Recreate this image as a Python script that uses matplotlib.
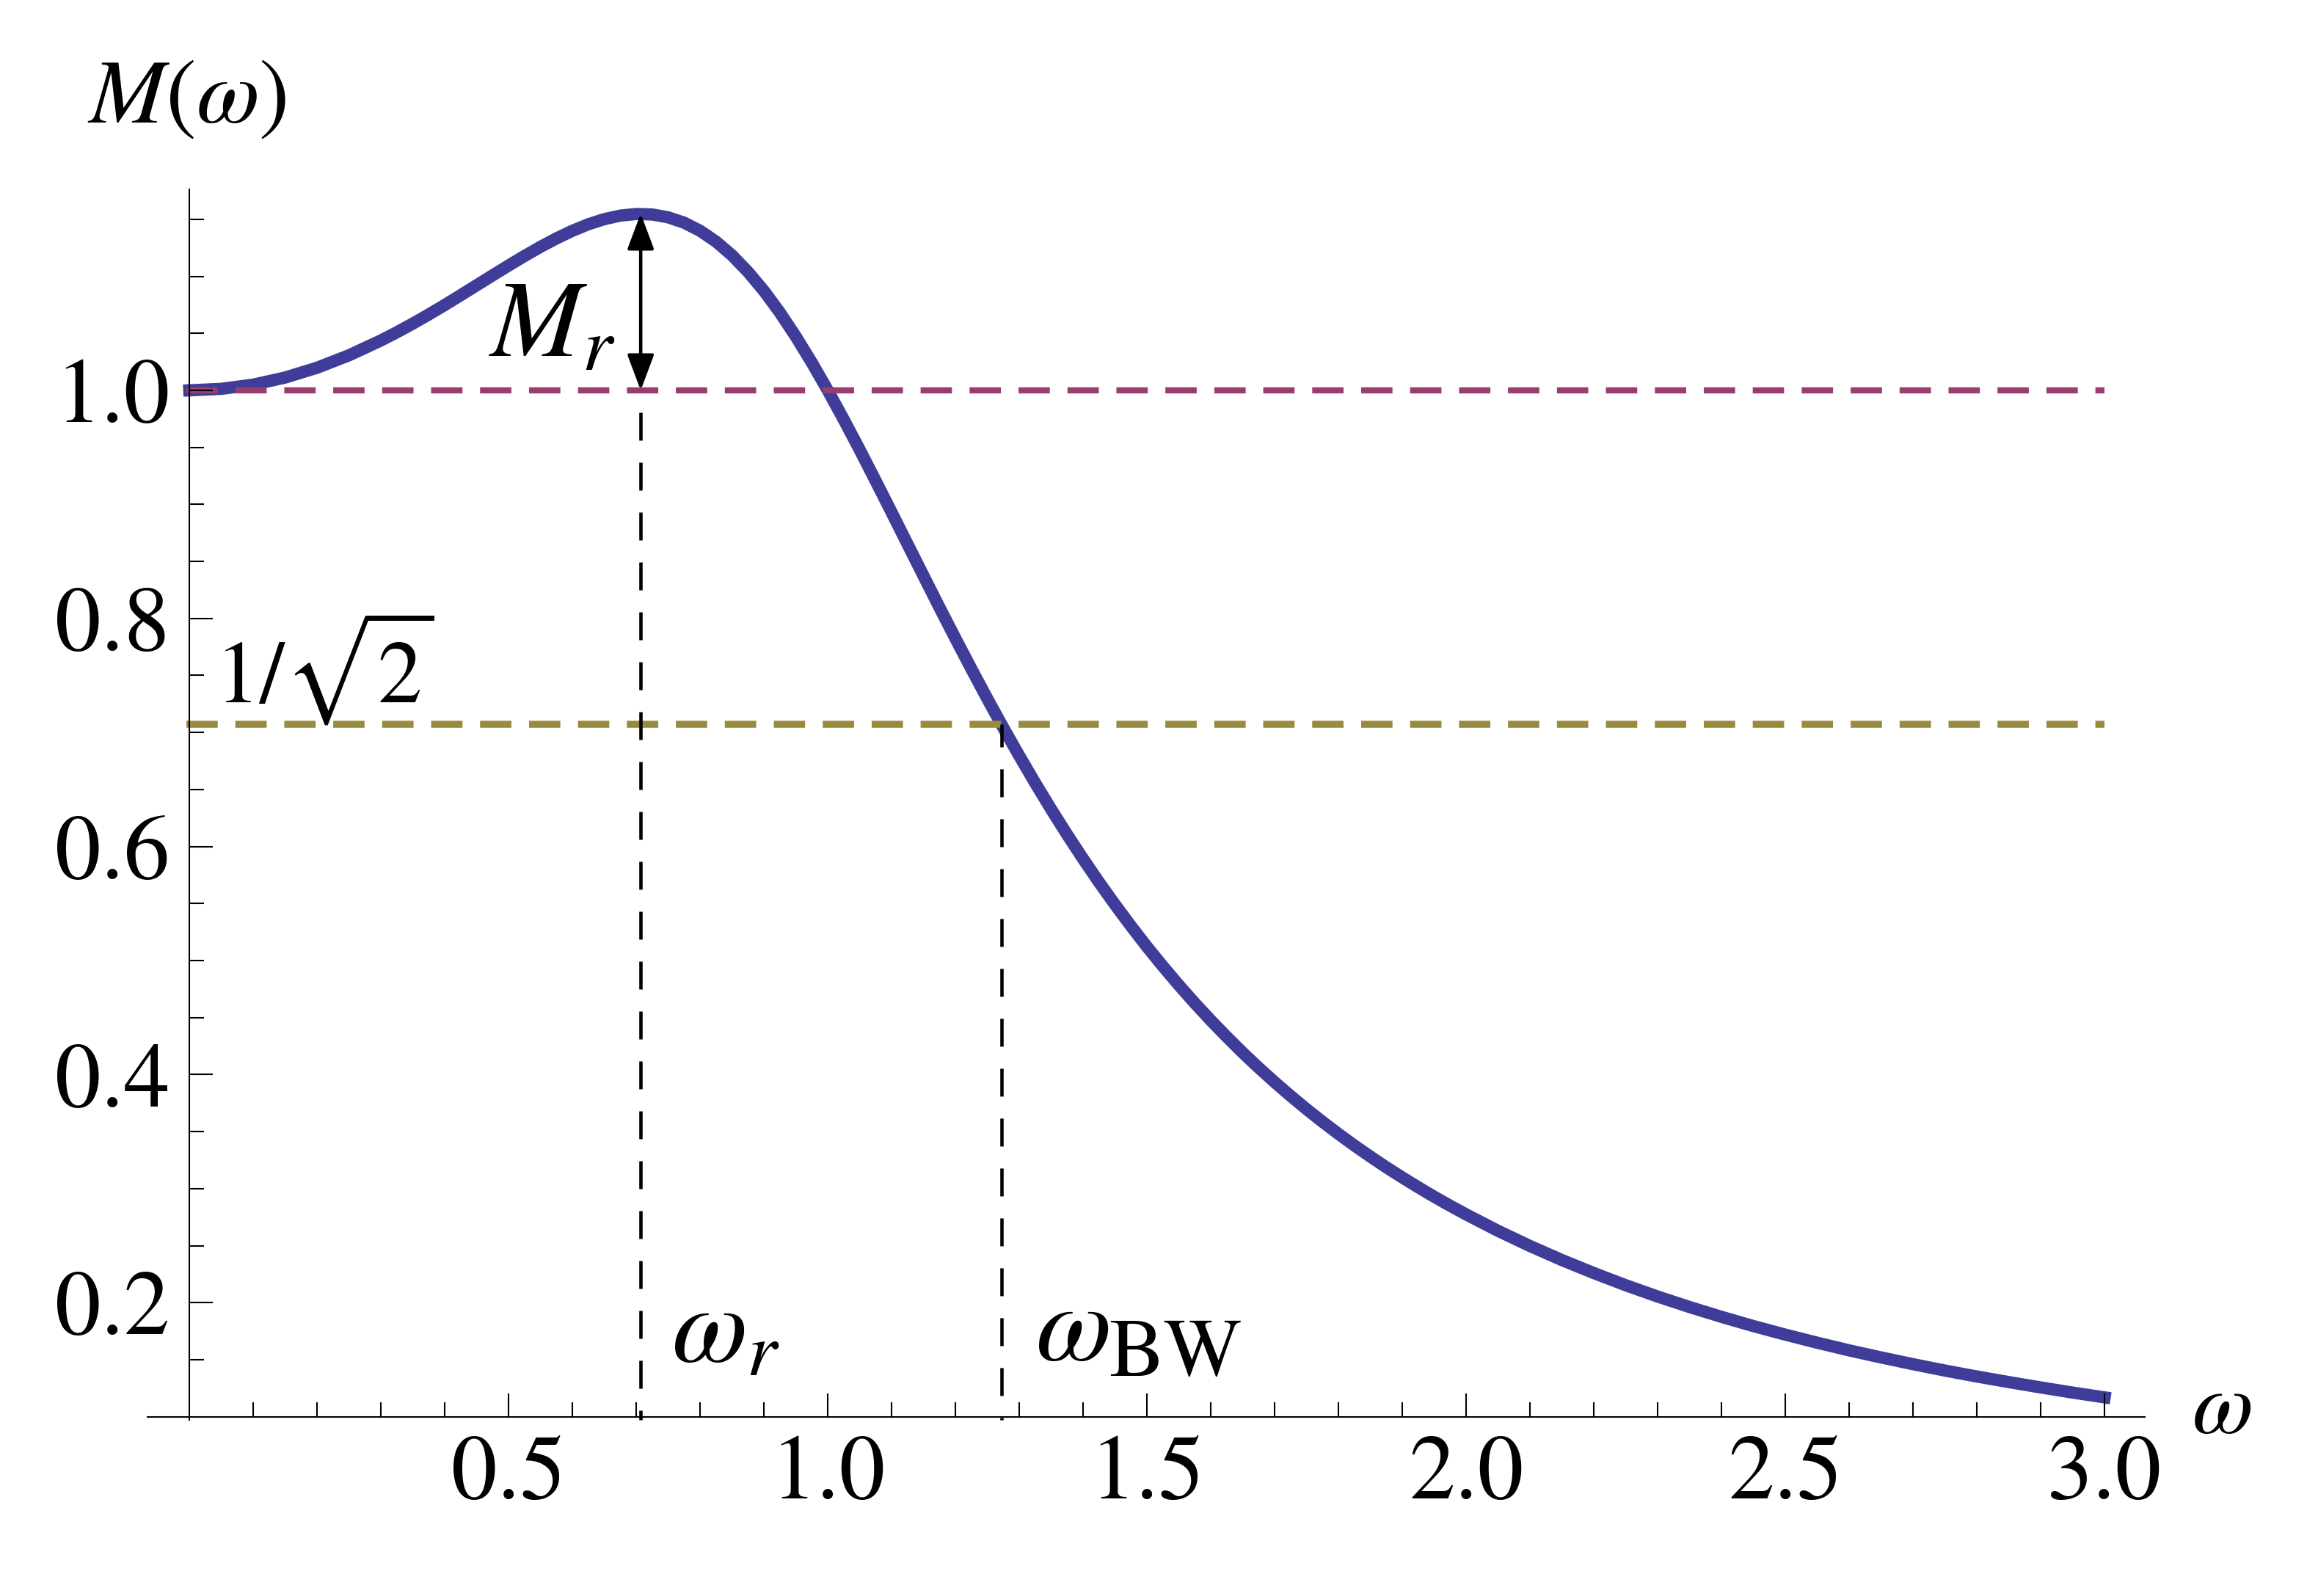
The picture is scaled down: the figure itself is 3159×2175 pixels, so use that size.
import matplotlib
matplotlib.use('Agg')
import matplotlib.pyplot as plt
from matplotlib.patches import FancyArrowPatch, ArrowStyle
from matplotlib.ticker import FixedLocator

# ---------------- data ----------------
omega = [0.00, 0.05, 0.10, 0.15, 0.20, 0.25, 0.30, 0.325, 0.35, 0.375,
         0.40, 0.425, 0.45, 0.475, 0.50, 0.525, 0.55, 0.575, 0.60, 0.625,
         0.65, 0.675, 0.70, 0.725, 0.75, 0.775, 0.80, 0.825, 0.85, 0.875,
         0.90, 0.925, 0.95, 0.975, 1.00, 1.025, 1.05, 1.075, 1.10, 1.125,
         1.15, 1.175, 1.20, 1.225, 1.25, 1.275, 1.30, 1.325, 1.35, 1.375,
         1.40, 1.425, 1.45, 1.475, 1.50, 1.525, 1.55, 1.575, 1.60, 1.625,
         1.65, 1.675, 1.70, 1.725, 1.75, 1.775, 1.80, 1.825, 1.85, 1.875,
         1.90, 1.925, 1.95, 1.975, 2.00, 2.05, 2.10, 2.15, 2.20, 2.25,
         2.30, 2.35, 2.40, 2.45, 2.50, 2.55, 2.60, 2.65, 2.70, 2.75,
         2.80, 2.85, 2.90, 2.95, 3.00]
magnitude = [1.0000, 1.0013, 1.0050, 1.0112, 1.0198, 1.0307, 1.0437, 1.0509, 1.0585, 1.0665,
             1.0748, 1.0834, 1.0921, 1.1008, 1.1094, 1.1178, 1.1258, 1.1332, 1.1399, 1.1456,
             1.1501, 1.1532, 1.1546, 1.1542, 1.1517, 1.1470, 1.1399, 1.1304, 1.1184, 1.1039,
             1.0872, 1.0682, 1.0471, 1.0243, 1.0000, 0.9744, 0.9479, 0.9206, 0.8930, 0.8651,
             0.8373, 0.8096, 0.7824, 0.7557, 0.7295, 0.7041, 0.6795, 0.6556, 0.6326, 0.6104,
             0.5891, 0.5686, 0.5490, 0.5302, 0.5121, 0.4949, 0.4784, 0.4626, 0.4475, 0.4331,
             0.4192, 0.4060, 0.3934, 0.3813, 0.3697, 0.3586, 0.3480, 0.3378, 0.3281, 0.3187,
             0.3098, 0.3012, 0.2929, 0.2850, 0.2774, 0.2630, 0.2497, 0.2374, 0.2260, 0.2153,
             0.2054, 0.1962, 0.1876, 0.1795, 0.1720, 0.1649, 0.1582, 0.1520, 0.1461, 0.1405,
             0.1353, 0.1304, 0.1257, 0.1212, 0.1170]

omega_r = 0.707        # resonant frequency
M_peak = 1.155         # resonant peak
omega_bw = 1.272       # bandwidth frequency
dc_level = 1.0
half_power = 0.7071    # 1/sqrt(2)

x_major = [0.5, 1.0, 1.5, 2.0, 2.5, 3.0]
x_labels = ['0.5', '1.0', '1.5', '2.0', '2.5', '3.0']
x_minor = [0.1, 0.2, 0.3, 0.4, 0.6, 0.7, 0.8, 0.9, 1.1, 1.2, 1.3, 1.4,
           1.6, 1.7, 1.8, 1.9, 2.1, 2.2, 2.3, 2.4, 2.6, 2.7, 2.8, 2.9]
y_major = [0.2, 0.4, 0.6, 0.8, 1.0]
y_labels = ['0.2', '0.4', '0.6', '0.8', '1.0']
y_minor = [0.15, 0.25, 0.30, 0.35, 0.45, 0.50, 0.55, 0.65, 0.70, 0.75,
           0.85, 0.90, 0.95, 1.05, 1.10, 1.15]

# ---------------- style ----------------
plt.rcParams['font.family'] = ['STIXGeneral', 'DejaVu Serif']
plt.rcParams['mathtext.fontset'] = 'stix'
plt.rcParams['lines.scale_dashes'] = False

c_curve = '#3F3D99'
c_mag = '#993D71'
c_gold = '#998B3D'

fig = plt.figure(figsize=(3159 / 300, 2175 / 300), dpi=300)
ax = fig.add_axes([0.0635, 0.1103, 0.8618, 0.7709])
ax.set_xlim(-0.066, 3.063)
ax.set_ylim(0.0972, 1.176)

for s in ['top', 'right']:
    ax.spines[s].set_visible(False)
ax.spines['left'].set_position(('data', 0))
ax.spines['bottom'].set_position(('data', 0.1))
for s in ['left', 'bottom']:
    ax.spines[s].set_linewidth(0.5)
    ax.spines[s].set_zorder(10)
ax.xaxis.set_zorder(10)
ax.yaxis.set_zorder(10)

ax.xaxis.set_major_locator(FixedLocator(x_major))
ax.xaxis.set_minor_locator(FixedLocator(x_minor))
ax.set_xticklabels(x_labels)
ax.yaxis.set_major_locator(FixedLocator(y_major))
ax.yaxis.set_minor_locator(FixedLocator(y_minor))
ax.set_yticklabels(y_labels)

ax.tick_params(which='both', direction='in', width=0.5, labelsize=30)
ax.tick_params(which='major', length=7.7)
ax.tick_params(which='minor', length=4.7)
ax.tick_params(axis='x', which='major', pad=6)
ax.tick_params(axis='y', which='major', pad=6.5)

# ---------------- marks ----------------
ax.plot(omega, magnitude, color=c_curve, lw=4.0, solid_capstyle='projecting',
        solid_joinstyle='round', zorder=2)

ax.plot([-0.005, 3.0], [dc_level, dc_level], color=c_mag, lw=2.0,
        ls=(0, (10.25, 5.76)), zorder=3)
ax.plot([-0.005, 3.0], [half_power, half_power], color=c_gold, lw=2.3,
        ls=(0, (10.25, 5.76)), zorder=3)

ax.plot([omega_r, omega_r], [dc_level, 0.0972], color='black', lw=1.1,
        ls=(9.12, (9.12, 7.2)), zorder=4, clip_on=False)
ax.plot([omega_bw, omega_bw], [half_power, 0.0972], color='black', lw=1.1,
        ls=(1.7, (9.12, 7.2)), zorder=4, clip_on=False)

arrow = FancyArrowPatch((omega_r, dc_level), (omega_r, M_peak),
                        arrowstyle=ArrowStyle('<|-|>', head_length=10, head_width=3.75),
                        mutation_scale=1, lw=1.1, color='black',
                        shrinkA=0, shrinkB=0, zorder=5)
ax.add_patch(arrow)

# ---------------- text ----------------
ax.text(-0.004, 1.235, r'$M(\omega)$', fontsize=30, ha='center', va='baseline',
        clip_on=False)
ax.text(3.183, 0.0856, r'$\omega$', fontsize=29, ha='center', va='baseline',
        clip_on=False)
ax.text(0.04, 0.7265, r'$1/\sqrt{2}$', fontsize=29, ha='left', va='baseline')
ax.text(0.668, 1.030, r'$M_r$', fontsize=36, ha='right', va='baseline')
ax.text(0.755, 0.1486, r'$\omega_r$', fontsize=36, ha='left', va='baseline')
ax.text(1.325, 0.150, r'$\omega$', fontsize=36, ha='left', va='baseline')
ax.text(1.440, 0.1358, 'BW', fontsize=27, ha='left', va='baseline')

fig.savefig('out.png', dpi=300)
